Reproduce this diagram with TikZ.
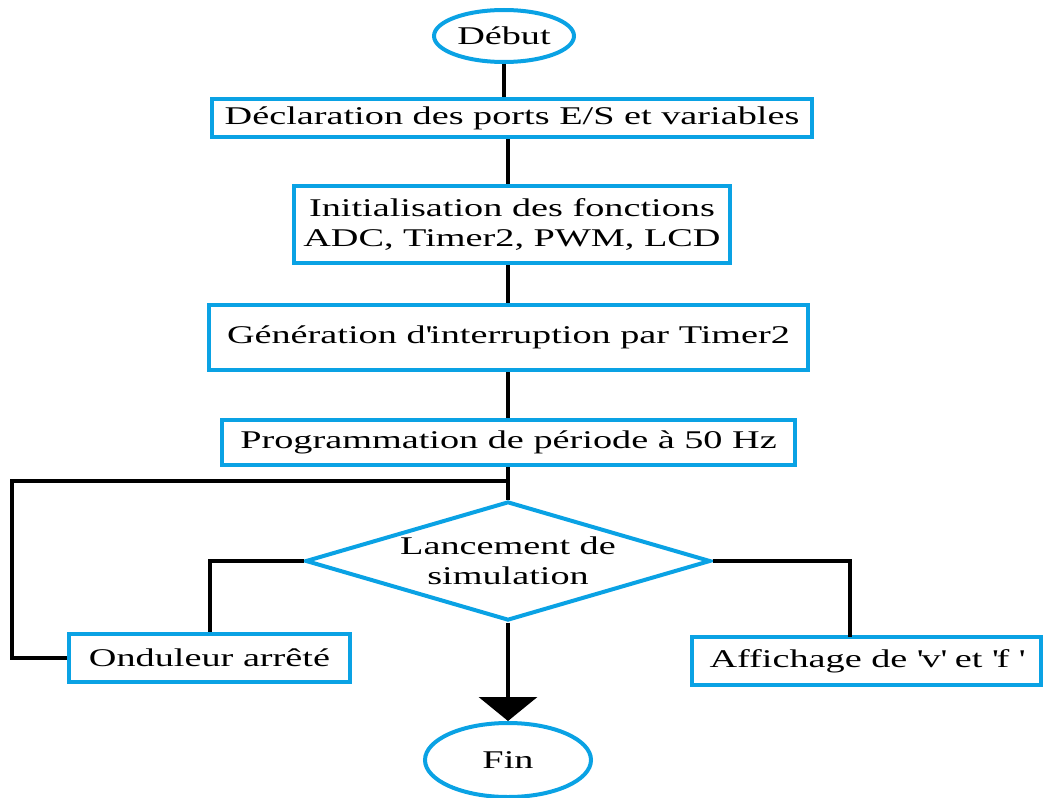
\documentclass[tikz,border=0pt]{standalone}
\usepackage{fontspec}
\setmainfont{Liberation Serif}[FakeStretch=1.5]
\usetikzlibrary{shapes.geometric,arrows.meta}
\definecolor{flowblue}{RGB}{10,162,228}
\newcommand{\sq}{\textquotesingle}
\begin{document}
\begin{tikzpicture}[x=1pt,y=-1pt,
  every node/.style={font=\fontsize{25.5}{30}\selectfont, inner sep=0pt, align=center},
  box/.style={draw=flowblue, line width=4pt, rectangle},
  term/.style={draw=flowblue, line width=4pt, ellipse},
  choice/.style={draw=flowblue, line width=4pt, diamond, aspect=3.4},
  link/.style={draw=black, line width=4pt}]
\useasboundingbox (0,0) rectangle (1043,797);

% terminals
\node[term, minimum width=140pt, minimum height=52pt] (debut) at (504,36) {Début};
\node[term, minimum width=166pt, minimum height=74pt] (fin) at (508,760) {Fin};

% processing steps
\node[box, minimum width=600pt, minimum height=38pt] (decl) at (512,118)
  {Déclaration des ports E/S et variables};
\node[box, minimum width=436pt, minimum height=77pt] (init) at (512,224.5)
  {Initialisation des fonctions\\ADC, Timer2, PWM, LCD};
\node[box, minimum width=599pt, minimum height=65pt] (gen) at (508.5,337.5)
  {Génération d\sq interruption par Timer2};
\node[box, minimum width=573pt, minimum height=45pt] (prog) at (508.5,442.5)
  {Programmation de période à 50 Hz};

% decision
\node[choice, minimum width=405pt, minimum height=119pt] (dia) at (508,561)
  {Lancement de\\simulation};

% outcomes
\node[box, minimum width=281pt, minimum height=48pt] (ond) at (209.5,658)
  {Onduleur arrêté};
\node[box, minimum width=349pt, minimum height=48pt] (aff) at (866.5,661)
  {Affichage de \sq v\sq{} et \sq f \sq};

% helper points
\coordinate (j) at (508,481);
\coordinate (loopcorner) at (12,481);
\coordinate (affin) at (850,637);

% main trunk
\draw[link] (debut.south) -- (debut.south |- decl.north);
\draw[link] (decl.south -| dia.north) -- (init.north -| dia.north);
\draw[link] (init.south -| dia.north) -- (gen.north -| dia.north);
\draw[link] (gen.south -| dia.north) -- (prog.north -| dia.north);
\draw[link] (prog.south -| dia.north) -- (dia.north);

% feedback loop
\draw[link] (j) -- (loopcorner) |- (ond.west);

% branches
\draw[link] (dia.west) -| (ond.north);
\draw[link] (dia.east) -| (affin);
\draw[link, -{Triangle[width=58pt,length=24pt]}] (dia.south) -- (fin.north);
\end{tikzpicture}
\end{document}
